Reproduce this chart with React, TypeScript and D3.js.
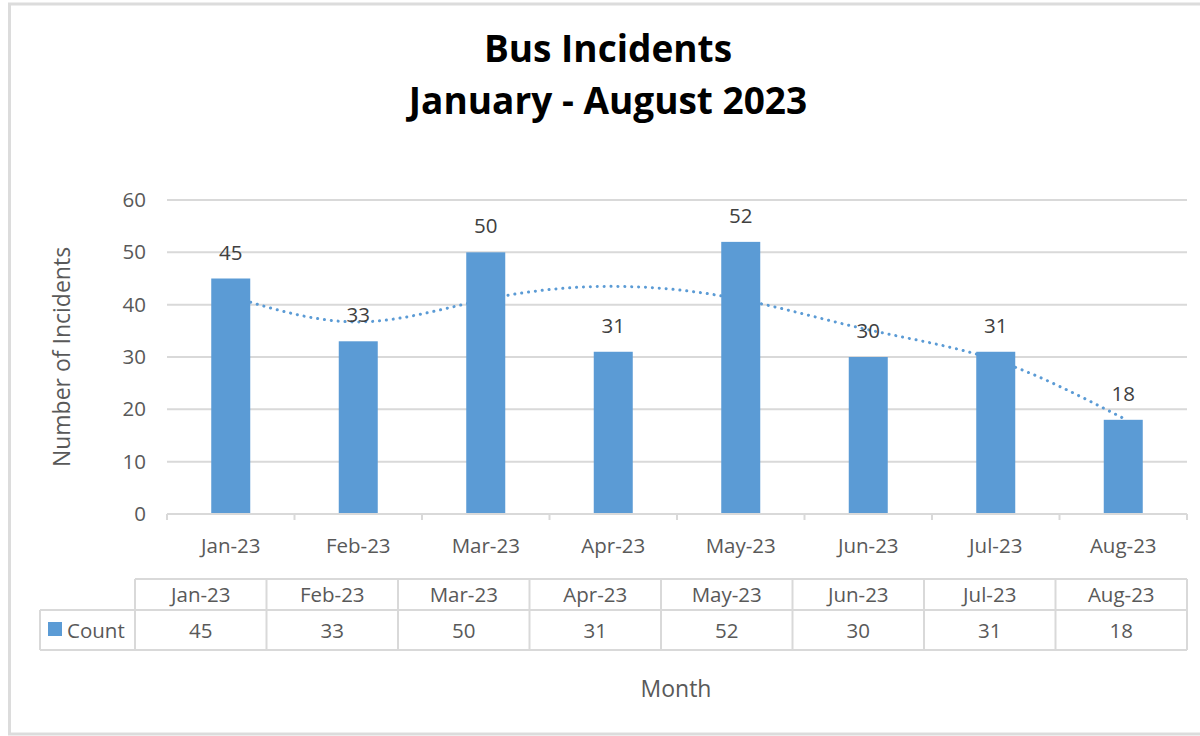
import React, { useEffect, useRef } from "react";
import * as d3 from "d3";

const months = ["Jan-23", "Feb-23", "Mar-23", "Apr-23", "May-23", "Jun-23", "Jul-23", "Aug-23"];
const counts = [45, 33, 50, 31, 52, 30, 31, 18];
// polynomial trendline, one value per month
const trend = [41.6, 36.7, 41.0, 43.5, 41.0, 35.2, 29.4, 18.3];
const yTicks = [0, 10, 20, 30, 40, 50, 60];

const App = () => {
  const ref = useRef<SVGSVGElement | null>(null);

  useEffect(() => {
    const svg = d3.select(ref.current);
    svg.selectAll("*").remove();

    const width = 1200,
      height = 736;
    const plot = { left: 167, right: 1187, top: 200, bottom: 514 };
    const font = "'Open Sans', 'Noto Sans', sans-serif";
    const gray = "#595959";
    const lineGray = "#d9d9d9";
    const blue = "#5b9bd5";
    const fs = 20.5;

    svg.append("rect").attr("width", width).attr("height", height).attr("fill", "#fff");

    // outer frame
    svg
      .append("rect")
      .attr("x", 9.5)
      .attr("y", 4)
      .attr("width", width + 20)
      .attr("height", height - 6)
      .attr("fill", "none")
      .attr("stroke", "#dcdcdc")
      .attr("stroke-width", 3);

    // title
    const title = svg
      .append("text")
      .attr("text-anchor", "middle")
      .attr("font-family", font)
      .attr("font-weight", 700)
      .attr("font-size", 37)
      .attr("fill", "#000");
    title.append("tspan").attr("x", 608).attr("y", 62).text("Bus Incidents");
    title.append("tspan").attr("x", 608).attr("y", 114).text("January - August 2023");

    const x = d3.scaleBand().domain(months).range([plot.left, plot.right]);
    const y = d3.scaleLinear().domain([0, 60]).range([plot.bottom, plot.top]);

    // gridlines
    svg
      .append("g")
      .selectAll("line")
      .data(yTicks.filter((t) => t > 0))
      .join("line")
      .attr("x1", plot.left)
      .attr("x2", plot.right)
      .attr("y1", (d) => y(d))
      .attr("y2", (d) => y(d))
      .attr("stroke", lineGray)
      .attr("stroke-width", 2);

    // y tick labels
    svg
      .append("g")
      .selectAll("text")
      .data(yTicks)
      .join("text")
      .attr("x", 146)
      .attr("y", (d) => y(d) + 7)
      .attr("text-anchor", "end")
      .attr("font-family", font)
      .attr("font-size", fs)
      .attr("fill", gray)
      .text((d) => d);

    // y title
    svg
      .append("text")
      .attr("transform", `translate(70, ${(plot.top + plot.bottom) / 2}) rotate(-90)`)
      .attr("text-anchor", "middle")
      .attr("font-family", font)
      .attr("font-size", 23)
      .attr("fill", gray)
      .text("Number of Incidents");

    // trendline (behind the bars)
    const line = d3
      .line<number>()
      .x((d, i) => x(months[i])! + x.bandwidth() / 2)
      .y((d) => y(d))
      .curve(d3.curveNatural);
    svg
      .append("path")
      .attr("d", line(trend))
      .attr("fill", "none")
      .attr("stroke", blue)
      .attr("stroke-width", 3)
      .attr("stroke-linecap", "round")
      .attr("stroke-dasharray", "0.1 6.8");

    // bars
    const barW = 39;
    svg
      .append("g")
      .selectAll("rect")
      .data(counts)
      .join("rect")
      .attr("x", (d, i) => x(months[i])! + x.bandwidth() / 2 - barW / 2)
      .attr("y", (d) => y(d))
      .attr("width", barW)
      .attr("height", (d) => y(0) - y(d))
      .attr("fill", blue);

    // data labels
    svg
      .append("g")
      .selectAll("text")
      .data(counts)
      .join("text")
      .attr("x", (d, i) => x(months[i])! + x.bandwidth() / 2)
      .attr("y", (d) => y(d) - 19)
      .attr("text-anchor", "middle")
      .attr("font-family", font)
      .attr("font-size", fs)
      .attr("fill", "#404040")
      .text((d) => d);

    // x axis line + ticks
    svg
      .append("line")
      .attr("x1", plot.left)
      .attr("x2", plot.right)
      .attr("y1", plot.bottom)
      .attr("y2", plot.bottom)
      .attr("stroke", lineGray)
      .attr("stroke-width", 2);
    svg
      .append("g")
      .selectAll("line")
      .data(d3.range(months.length + 1))
      .join("line")
      .attr("x1", (i) => plot.left + i * x.step())
      .attr("x2", (i) => plot.left + i * x.step())
      .attr("y1", plot.bottom)
      .attr("y2", plot.bottom + 6)
      .attr("stroke", lineGray)
      .attr("stroke-width", 2);

    svg
      .append("g")
      .selectAll("text")
      .data(months)
      .join("text")
      .attr("x", (d) => x(d)! + x.bandwidth() / 2)
      .attr("y", 553)
      .attr("text-anchor", "middle")
      .attr("font-family", font)
      .attr("font-size", fs)
      .attr("fill", gray)
      .text((d) => d);

    // data table
    const tbl = { left: 135, right: 1187, top: 579, mid: 610, bottom: 650, legendLeft: 40 };
    const cx = d3.scaleBand().domain(months).range([tbl.left, tbl.right]);
    const tg = svg.append("g").attr("stroke", lineGray).attr("stroke-width", 2).attr("fill", "none");
    tg.append("line").attr("x1", tbl.left).attr("x2", tbl.right).attr("y1", tbl.top).attr("y2", tbl.top);
    tg.append("line").attr("x1", tbl.legendLeft).attr("x2", tbl.right).attr("y1", tbl.mid).attr("y2", tbl.mid);
    tg.append("line").attr("x1", tbl.legendLeft).attr("x2", tbl.right).attr("y1", tbl.bottom).attr("y2", tbl.bottom);
    tg.append("line").attr("x1", tbl.legendLeft).attr("x2", tbl.legendLeft).attr("y1", tbl.mid).attr("y2", tbl.bottom);
    tg.selectAll("line.col")
      .data(d3.range(months.length + 1))
      .join("line")
      .attr("class", "col")
      .attr("x1", (i) => tbl.left + i * cx.step())
      .attr("x2", (i) => tbl.left + i * cx.step())
      .attr("y1", tbl.top)
      .attr("y2", tbl.bottom);

    svg
      .append("g")
      .selectAll("text")
      .data(months)
      .join("text")
      .attr("x", (d) => cx(d)! + cx.bandwidth() / 2)
      .attr("y", 602)
      .attr("text-anchor", "middle")
      .attr("font-family", font)
      .attr("font-size", fs)
      .attr("fill", gray)
      .text((d) => d);

    svg
      .append("g")
      .selectAll("text")
      .data(counts)
      .join("text")
      .attr("x", (d, i) => cx(months[i])! + cx.bandwidth() / 2)
      .attr("y", 638)
      .attr("text-anchor", "middle")
      .attr("font-family", font)
      .attr("font-size", fs)
      .attr("fill", gray)
      .text((d) => d);

    svg
      .append("rect")
      .attr("x", 48)
      .attr("y", 622)
      .attr("width", 14)
      .attr("height", 14)
      .attr("fill", blue);
    svg
      .append("text")
      .attr("x", 67)
      .attr("y", 638)
      .attr("font-family", font)
      .attr("font-size", fs)
      .attr("fill", gray)
      .text("Count");

    // x title
    svg
      .append("text")
      .attr("x", 676)
      .attr("y", 697)
      .attr("text-anchor", "middle")
      .attr("font-family", font)
      .attr("font-size", 23)
      .attr("fill", gray)
      .text("Month");
  }, []);

  return (
    <svg
      ref={ref}
      width={1200}
      height={736}
      style={{ position: "absolute", left: 0, top: 0, display: "block" }}
    />
  );
};

export default App;
